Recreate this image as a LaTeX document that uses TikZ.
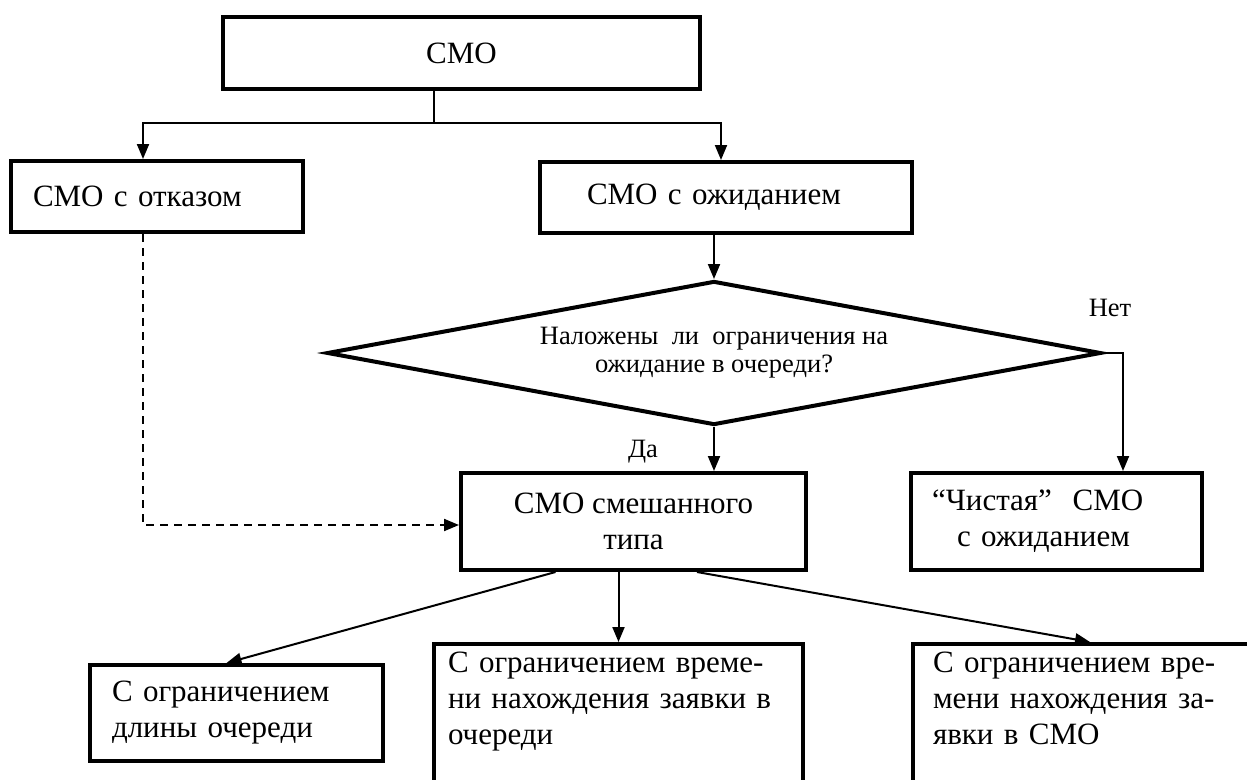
\documentclass[tikz,border=0pt]{standalone}
\usepackage{fontspec}
\setmainfont{Liberation Serif}
\usetikzlibrary{shapes.geometric,arrows.meta}
\begin{document}
\begin{tikzpicture}[x=1pt,y=-1pt,
    blk/.style={draw, line width=4pt, inner sep=0pt, font=\fontsize{31}{36}\selectfont},
    cond/.style={draw, diamond, aspect=5.4, line width=4pt, inner sep=0pt, align=center, font=\fontsize{26.5}{28}\selectfont},
    lbl/.style={font=\fontsize{26.5}{28}\selectfont},
    arr/.style={line width=2pt, -{Triangle[length=15pt,width=12pt]}},
    dsh/.style={arr, dash pattern=on 8pt off 6pt}]
  \useasboundingbox (0,0) rectangle (1247,779);
  \clip (0,0) rectangle (1247,779);

  \node[blk, minimum width=477pt, minimum height=72pt] (smo) at (461.5,53) {СМО};
  \node[blk, minimum width=292pt, minimum height=71pt, text width=248pt, align=left] (fail) at (157,196.5) {СМО с отказом};
  \node[blk, minimum width=372pt, minimum height=71pt, text width=278pt, align=left] (wait) at (726,197.5) {СМО с ожиданием};
  \node[cond, minimum width=774pt, minimum height=144pt] (dec) at (714,353) {Наложены~ ли~ ограничения на\\ожидание в очереди?};
  \node[blk, minimum width=345pt, minimum height=97pt, align=center] (mix) at (633.5,521.5) {СМО смешанного\\типа};
  \node[blk, minimum width=291pt, minimum height=97pt, text width=249pt, align=left] (pure) at (1056.5,521.5) {“Чистая”~ СМО\\\hspace*{25pt}с ожиданием};
  \node[blk, minimum width=293pt, minimum height=96pt, text width=249pt, align=left] (qlen) at (236.5,713) {С ограничением\\длины очереди};
  \node[blk, anchor=north, minimum width=369pt, text width=341pt, align=left, inner ysep=8pt, text depth=140pt] (qtime) at (618.5,642) {С ограничением време-\\ни нахождения заявки в\\очереди};
  \node[blk, anchor=north, minimum width=340pt, text width=300pt, align=left, inner ysep=8pt, text depth=140pt] (stime) at (1083,642) {С ограничением вре-\\мени нахождения за-\\явки в СМО};
  \node[lbl] (yes) at (643,452) {Да};
  \node[lbl] (no) at (1110,308) {Нет};

  \coordinate (fork) at (434,123);
  \coordinate (nobend) at (1123,353);
  \draw[line width=2pt] (smo.south -| fork) -- (fork);
  \draw[arr] (fork) -| ([xshift=-14pt]fail.north);
  \draw[arr] (fork) -| ([xshift=-5pt]wait.north);
  \draw[arr] (wait.south -| dec.north) -- (dec.north);
  \draw[arr] (dec.south) -- (dec.south |- mix.north);
  \draw[arr] (dec.east) -- (nobend) -- (nobend |- pure.north);
  \draw[dsh] ([xshift=-14pt]fail.south) |- ([yshift=-3.5pt]mix.west);
  \draw[arr] ([xshift=-78pt]mix.south) -- ([xshift=-10pt]qlen.north);
  \draw[arr] (mix.south -| qtime.north) -- (qtime.north);
  \draw[arr] ([xshift=63.5pt]mix.south) -- ([xshift=7pt]stime.north);
\end{tikzpicture}
\end{document}
